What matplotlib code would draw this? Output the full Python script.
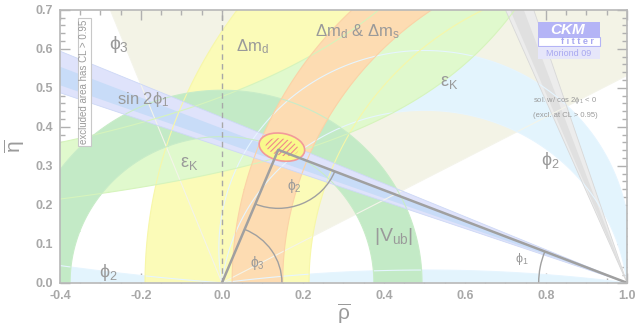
import numpy as np
import matplotlib
matplotlib.use("Agg")
import matplotlib.pyplot as plt
from matplotlib.patches import Ellipse, Arc, Rectangle, Polygon

plt.rcParams['font.family'] = ['Liberation Sans', 'DejaVu Sans']
plt.rcParams['mathtext.fontset'] = 'custom'
plt.rcParams['mathtext.rm'] = 'Liberation Sans'
plt.rcParams['mathtext.it'] = 'Liberation Sans'
plt.rcParams['mathtext.fallback'] = 'stixsans'
plt.rcParams['hatch.linewidth'] = 0.8

# ---- constraint ranges in the (rho-bar, eta-bar) plane (95% CL) ----
GAMMA_DEG = [28.0, 111.5]          # phi3 wedge from the origin
ALPHA_DEG = [80.0, 97.0]           # phi2 band (apex angle)
ALPHA_FLAT_DEG = [4.5, 172.5]      # phi2 solutions close to the real axis
DMD_RADIUS = [0.785, 1.19]         # Delta m_d annulus around (1, 0)
DMS_RADIUS = [0.85, 0.975]         # Delta m_d & Delta m_s annulus around (1, 0)
EPSK_SHIFT = 1.22                  # eps_K hyperbola: eta * (shift - rho)
EPSK_RANGE = [0.348, 0.583]
VUB_RADIUS = [0.375, 0.494]        # |V_ub| annulus around the origin
BETA_OUTER_DEG = [19.2, 23.0]      # sin 2phi1, outer band
BETA_INNER_DEG = [19.9, 21.6]      # sin 2phi1, inner band
BETA_ALT_OUTER_DEG = [66.8, 71.8]  # solution with cos 2phi1 < 0
BETA_ALT_INNER_DEG = [67.6, 70.0]
APEX = [0.139, 0.341]              # fitted apex of the unitarity triangle
FIT_CENTER = [0.148, 0.348]
FIT_SIZE_95 = [0.114, 0.070]
FIT_SIZE_68 = [0.082, 0.044]
FIT_TILT = -12.0

X_TICKS = [-0.4, -0.2, 0.0, 0.2, 0.4, 0.6, 0.8, 1.0]
X_LABELS = ['-0.4', '-0.2', '0.0', '0.2', '0.4', '0.6', '0.8', '1.0']
Y_TICKS = [0.0, 0.1, 0.2, 0.3, 0.4, 0.5, 0.6, 0.7]
Y_LABELS = ['0.0', '0.1', '0.2', '0.3', '0.4', '0.5', '0.6', '0.7']

# ---- colours ----
C_GAMMA = '#f3f3e6'
C_ALPHA = '#e3f4fd'
C_DMD = '#fbfbb8'
C_DMS = '#fddcb2'
C_EPSK = '#e0f9cd'
C_VUB = '#c3eac6'
C_B_OUT = '#dfe3fb'
C_B_IN = '#c8dcf8'
C_ALT_OUT = '#ececec'
C_ALT_IN = '#e0e0e0'
GREY_LAB = '#9a9a9a'

fig = plt.figure(figsize=(6.36, 3.30), dpi=100)
ax = fig.add_axes([0.0943, 0.143, 0.8915, 0.827])
ax.set_xlim(-0.4, 1.0)
ax.set_ylim(0.0, 0.7)

rho = np.linspace(-0.4, 1.0, 1401)
eta = np.linspace(0.0, 0.7, 701)
R, E = np.meshgrid(rho, eta)

alpha = np.degrees(np.arctan2(E, E**2 - R * (1 - R)))
r_b = np.hypot(R, E)
r_t = np.hypot(1 - R, E)
epsk = E * (EPSK_SHIFT - R)


def band(field, lo, hi, color, z):
    ax.contourf(R, E, field, levels=[lo, hi], colors=[color], zorder=z, antialiased=True)


def edges(field, levels, color, z, lw=0.8):
    ax.contour(R, E, field, levels=sorted(levels), colors=[color], linewidths=lw, zorder=z)


def wedge_points(cx, cy, a1, a2, reach=3.0):
    """Vertices of a wedge with its tip at (cx, cy); angles in degrees."""
    t = np.radians(np.linspace(a1, a2, 60))
    xs = np.concatenate([[cx], cx + reach * np.cos(t)])
    ys = np.concatenate([[cy], cy + reach * np.sin(t)])
    return np.column_stack([xs, ys])


def wedge(cx, cy, a1, a2, color, z):
    ax.add_patch(Polygon(wedge_points(cx, cy, a1, a2), closed=True, fc=color, ec='none', zorder=z))


def wedge_edges(cx, cy, angles, color, z, lw=0.8):
    for a in angles:
        t = np.radians(a)
        ax.plot([cx, cx + 3 * np.cos(t)], [cy, cy + 3 * np.sin(t)], color=color, lw=lw, zorder=z)


# filled constraint regions (phi1 bands measured from (1,0) towards negative rho)
wedge(0, 0, GAMMA_DEG[0], GAMMA_DEG[1], C_GAMMA, 1)
band(alpha, ALPHA_DEG[0], ALPHA_DEG[1], C_ALPHA, 2)
band(alpha, ALPHA_FLAT_DEG[1], 180.1, C_ALPHA, 2)
band(alpha, -0.1, ALPHA_FLAT_DEG[0], C_ALPHA, 2)
band(r_t, DMD_RADIUS[0], DMD_RADIUS[1], C_DMD, 3)
band(epsk, EPSK_RANGE[0], EPSK_RANGE[1], C_EPSK, 4)
band(r_b, VUB_RADIUS[0], VUB_RADIUS[1], C_VUB, 5)
band(r_t, DMS_RADIUS[0], DMS_RADIUS[1], C_DMS, 6)
wedge(1, 0, 180 - BETA_OUTER_DEG[1], 180 - BETA_OUTER_DEG[0], C_B_OUT, 7)
wedge(1, 0, 180 - BETA_INNER_DEG[1], 180 - BETA_INNER_DEG[0], C_B_IN, 7.1)
wedge(1, 0, 180 - BETA_ALT_OUTER_DEG[1], 180 - BETA_ALT_OUTER_DEG[0], C_ALT_OUT, 7.2)
wedge(1, 0, 180 - BETA_ALT_INNER_DEG[1], 180 - BETA_ALT_INNER_DEG[0], C_ALT_IN, 7.3)

# constraint boundaries drawn over all fills
wedge_edges(0, 0, GAMMA_DEG, '#f4f4ea', 8)
edges(alpha, ALPHA_DEG + ALPHA_FLAT_DEG, '#e6f5ff', 8)
edges(r_t, DMD_RADIUS, '#f7f7a8', 8)
edges(epsk, EPSK_RANGE, '#d6f4bc', 8)
edges(r_b, VUB_RADIUS, '#c8ecc8', 8)
edges(r_t, DMS_RADIUS, '#fbd2a6', 8)
wedge_edges(1, 0, [180 - b for b in BETA_OUTER_DEG], '#cdd8f6', 8, lw=0.6)
wedge_edges(1, 0, [180 - b for b in BETA_ALT_OUTER_DEG], '#d8d8d8', 8, lw=0.6)

# rho = 0 guide
ax.axvline(0.0, color='#a8a8a8', lw=1.0, ls=(0, (4, 3)), zorder=9)

# global fit region
ax.add_patch(Ellipse(FIT_CENTER, FIT_SIZE_95[0], FIT_SIZE_95[1], angle=FIT_TILT,
                     facecolor='#f9f98c', edgecolor='#f29a9a', lw=1.2, zorder=10))
ax.add_patch(Ellipse(FIT_CENTER, FIT_SIZE_68[0], FIT_SIZE_68[1], angle=FIT_TILT,
                     facecolor='none', edgecolor='#f08a8a', hatch='//////', lw=0, zorder=10.5))

# unitarity triangle
tri_x = [0.0, APEX[0], 1.0]
tri_y = [0.0, APEX[1], 0.0]
ax.plot(tri_x, tri_y, color='#a0a0a0', lw=1.8, zorder=11, solid_capstyle='round')

g_ang = np.degrees(np.arctan2(APEX[1], APEX[0]))
b_ang = np.degrees(np.arctan2(APEX[1], 1 - APEX[0]))
to_origin = np.degrees(np.arctan2(-APEX[1], -APEX[0])) % 360
to_one = np.degrees(np.arctan2(-APEX[1], 1 - APEX[0])) % 360

ax.add_patch(Arc((0, 0), 2 * 0.148, 2 * 0.148, theta1=0, theta2=g_ang,
                 color='#a0a0a0', lw=1.0, zorder=11))
ax.add_patch(Arc(APEX, 2 * 0.15, 2 * 0.15, theta1=to_origin, theta2=to_one,
                 color='#a0a0a0', lw=1.0, zorder=11))
ax.add_patch(Arc((1, 0), 2 * 0.218, 2 * 0.218, theta1=180 - b_ang, theta2=180,
                 color='#a0a0a0', lw=1.0, zorder=11))

# labels
big = dict(color=GREY_LAB, ha='center', va='center', zorder=12)
ax.text(-0.255, 0.612, r'$\phi_3$', fontsize=14, **big)
ax.text(0.075, 0.605, r'$\Delta\mathrm{m}_\mathrm{d}$', fontsize=12, **big)
ax.text(0.335, 0.643, r'$\Delta\mathrm{m}_\mathrm{d}$ & $\Delta\mathrm{m}_\mathrm{s}$', fontsize=12, **big)
ax.text(0.56, 0.514, r'$\mathrm{ε}_\mathrm{K}$', fontsize=13, **big)
ax.text(-0.195, 0.47, r'sin 2$\phi_1$', fontsize=12, **big)
ax.text(-0.08, 0.305, r'$\mathrm{ε}_\mathrm{K}$', fontsize=13, **big)
ax.text(0.178, 0.249, r'$\phi_2$', fontsize=10, **big)
ax.text(0.087, 0.05, r'$\phi_3$', fontsize=10, **big)
ax.text(0.425, 0.118, r'$|\mathrm{V}_\mathrm{ub}|$', fontsize=14, **big)
ax.text(0.741, 0.06, r'$\phi_1$', fontsize=9, **big)
ax.text(0.81, 0.313, r'$\phi_2$', fontsize=13, **big)
ax.text(-0.28, 0.027, r'$\phi_2$', fontsize=13, **big)
ax.text(0.767, 0.467, r'sol. w/ cos 2$\phi_1$ < 0', fontsize=5.5, color=GREY_LAB,
        ha='left', va='center', zorder=12)
ax.text(0.767, 0.430, '(excl. at CL > 0.95)', fontsize=5.5, color=GREY_LAB,
        ha='left', va='center', zorder=12)
ax.text(-0.34, 0.515, 'excluded area has CL > 0.95', fontsize=7, color=GREY_LAB,
        rotation=90, ha='center', va='center', zorder=12,
        bbox=dict(boxstyle='square,pad=0.15', fc='white', ec='#c8c8c8', lw=0.8))

# CKMfitter badge
tr = ax.transAxes
ax.add_patch(Rectangle((0.843, 0.900), 0.109, 0.055, transform=tr, fc='#b4b4f6', ec='none', zorder=12))
ax.add_patch(Rectangle((0.843, 0.867), 0.109, 0.033, transform=tr, fc='white', ec='#b4b4f6', lw=0.8, zorder=12))
ax.add_patch(Rectangle((0.843, 0.819), 0.109, 0.046, transform=tr, fc='#e6e6fa', ec='none', zorder=12))
ax.text(0.895, 0.928, 'CKM', transform=tr, fontsize=11, fontweight='bold', style='italic',
        color='white', ha='center', va='center', zorder=13)
ax.text(0.912, 0.883, 'f i t t e r', transform=tr, fontsize=6.5, fontweight='bold',
        color='#a8a8f0', ha='center', va='center', zorder=13)
ax.text(0.897, 0.842, 'Moriond 09', transform=tr, fontsize=6.5,
        color='#a8a8f0', ha='center', va='center', zorder=13)

# axes styling
ax.set_xticks(X_TICKS)
ax.set_xticklabels(X_LABELS)
ax.set_yticks(Y_TICKS)
ax.set_yticklabels(Y_LABELS)
ax.set_xticks(np.arange(-0.4, 1.0001, 0.05), minor=True)
ax.set_yticks(np.arange(0.0, 0.7001, 0.02), minor=True)
ax.tick_params(which='both', direction='in', top=True, right=True, color='#b0b0b0',
               labelcolor='#a8a8a8', labelsize=9, width=1.0)
ax.tick_params(which='major', length=7, pad=5)
ax.tick_params(which='minor', length=3.5)
for lab in ax.get_xticklabels() + ax.get_yticklabels():
    lab.set_fontweight('bold')
for sp in ax.spines.values():
    sp.set_color('#b8b8b8')
    sp.set_linewidth(1.2)
    sp.set_zorder(20)

ax.set_xlabel(r'$\overline{\mathrm{ρ}}$', fontsize=15, color=GREY_LAB, labelpad=0)
ax.set_ylabel(r'$\overline{\mathrm{η}}$', fontsize=15, color=GREY_LAB, labelpad=6)

fig.savefig('out.png', dpi=100)
